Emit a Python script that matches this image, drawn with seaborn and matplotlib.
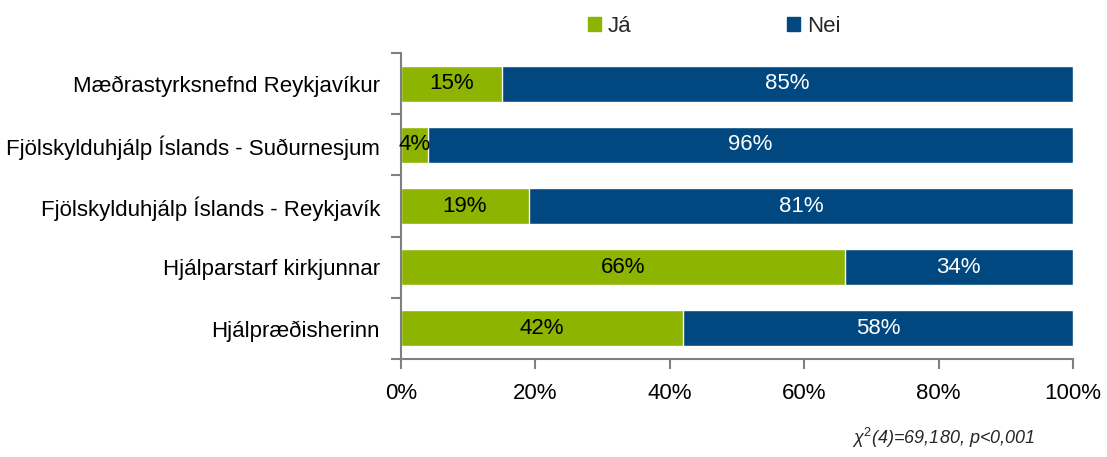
import numpy as np
import pandas as pd
import matplotlib
matplotlib.use("Agg")
import matplotlib.pyplot as plt
import seaborn as sns
from matplotlib.patches import Patch

categories = ["Mæðrastyrksnefnd Reykjavíkur",
              "Fjölskylduhjálp Íslands - Suðurnesjum",
              "Fjölskylduhjálp Íslands - Reykjavík",
              "Hjálparstarf kirkjunnar",
              "Hjálpræðisherinn"]
ja = [15, 4, 19, 66, 42]
nei = [85, 96, 81, 34, 58]
xticks = [0, 20, 40, 60, 80, 100]

green = "#8CB400"
blue = "#00487F"
fs = 16

sns.set_style("white")
plt.rcParams["font.family"] = ["Liberation Sans", "DejaVu Sans"]
plt.rcParams["mathtext.fontset"] = "custom"
plt.rcParams["mathtext.it"] = "Liberation Sans:italic"
plt.rcParams["mathtext.rm"] = "Liberation Sans"

df = pd.DataFrame({"cat": categories, "ja": ja, "nei": nei})
df["total"] = df["ja"] + df["nei"]

fig = plt.figure(figsize=(11.07, 4.57), dpi=100)
ax = fig.add_axes([0.3622, 0.2144, 0.6071, 0.6696])

# blue full-length bars underneath, green share on top
sns.barplot(data=df, y="cat", x="total", color=blue, orient="h", width=0.59,
            saturation=1, ax=ax)
sns.barplot(data=df, y="cat", x="ja", color=green, orient="h", width=0.59,
            saturation=1, ax=ax)

for i, (a, b) in enumerate(zip(ja, nei)):
    ax.text(a / 2, i, f"{a}%", ha="center", va="center", fontsize=fs, color="black")
    ax.text(a + b / 2, i, f"{b}%", ha="center", va="center", fontsize=fs, color="white")

ax.set_xlim(0, 100)
ax.set_ylim(4.5, -0.5)
ax.set_xticks(xticks)
ax.set_xticklabels([f"{t}%" for t in xticks], fontsize=fs)
ax.set_yticks(np.arange(-0.5, 5, 1), minor=False)
ax.set_yticklabels([])
ax.set_yticks(np.arange(5), minor=True)
ax.set_yticklabels(categories, minor=True, fontsize=fs, color="black")
ax.tick_params(axis="y", which="minor", length=0, pad=15)
ax.tick_params(axis="y", which="major", length=7, width=1.5, color="#808080", direction="out", left=True)
ax.tick_params(axis="x", length=7, width=1.5, color="#808080", direction="out", bottom=True, pad=10,
               labelcolor="black")
ax.set_xlabel("")
ax.set_ylabel("")

for s in ["top", "right"]:
    ax.spines[s].set_visible(False)
for s in ["left", "bottom"]:
    ax.spines[s].set_color("#808080")
    ax.spines[s].set_linewidth(1.5)

handles = [Patch(color=green, label="Já"), Patch(color=blue, label="Nei")]
fig.legend(handles=handles, loc="center", bbox_to_anchor=(0.645, 0.942), ncol=2,
           frameon=False, fontsize=fs, handlelength=0.6, handleheight=0.6,
           handletextpad=0.3, columnspacing=7.0)

fig.text(0.935, 0.015, r"$\chi^2$(4)=69,180, p<0,001", ha="right", va="bottom",
         fontsize=13, style="italic")

fig.savefig("out.png", dpi=100)
